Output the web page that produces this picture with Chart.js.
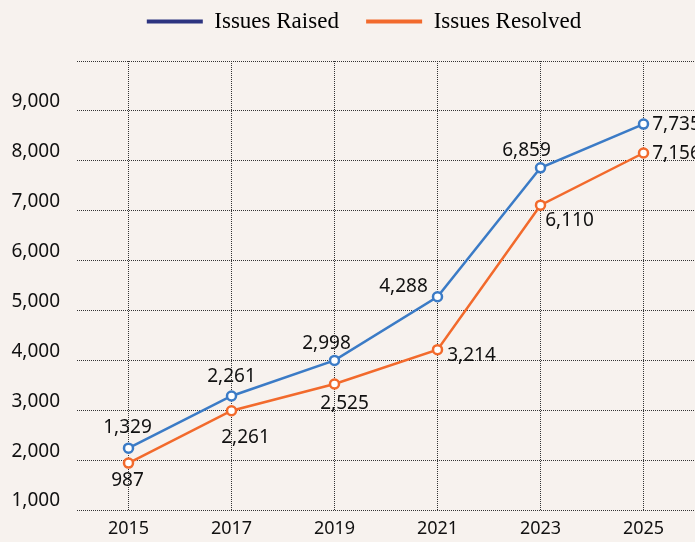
<!DOCTYPE html>
<html>
<head>
<meta charset="utf-8">
<script src="https://cdn.jsdelivr.net/npm/chart.js@4"></script>
<style>
  html, body { margin: 0; padding: 0; background: #f7f2ee; }
  #wrap { width: 695px; height: 542px; }
</style>
</head>
<body>
<div id="wrap"><canvas id="issuesChart" width="695" height="542"></canvas></div>
<script>
const years = ['2015', '2017', '2019', '2021', '2023', '2025'];
const raised = [1240, 2285, 2998, 4275, 6859, 7735];
const resolved = [940, 1990, 2525, 3214, 6110, 7156];
const raisedLabels = ['1,329', '2,261', '2,998', '4,288', '6,859', '7,735'];
const resolvedLabels = ['987', '2,261', '2,525', '3,214', '6,110', '7,156'];

// where each value label sits relative to its point
const raisedOffsets = [[-1, -21], [0, -19], [-8, -17], [-34, -10], [-14, -17], [33, 0]];
const resolvedOffsets = [[-1, 17], [14, 27], [10, 20], [34, 6], [29, 15], [33, 1]];

const blue = '#3b7bc6';
const orange = '#f26a2c';
const legendColors = ['#2d3480', '#f26a2c'];

const valueLabels = {
    id: 'valueLabels',
    afterDatasetsDraw(chart) {
        const ctx = chart.ctx;
        const texts = [raisedLabels, resolvedLabels];
        const offs = [raisedOffsets, resolvedOffsets];
        ctx.save();
        ctx.font = '19px "Noto Sans"';
        ctx.fillStyle = '#111111';
        ctx.textAlign = 'center';
        ctx.textBaseline = 'middle';
        chart.data.datasets.forEach((ds, i) => {
            chart.getDatasetMeta(i).data.forEach((pt, j) => {
                ctx.fillText(texts[i][j], pt.x + offs[i][j][0], pt.y + offs[i][j][1]);
            });
        });
        ctx.restore();
    }
};

// fixed legend band height, and legend centred a little right of the canvas middle
const legendBox = {
    id: 'legendBox',
    beforeInit(chart) {
        const fit = chart.legend.fit;
        chart.legend.fit = function () {
            fit.bind(chart.legend)();
            this.height = 61;
        };
    },
    afterLayout(chart) {
        chart.legend.left = 33;
    }
};

Chart.defaults.font.family = '"Noto Sans", sans-serif';
Chart.defaults.color = '#111111';

new Chart(document.getElementById('issuesChart'), {
    type: 'line',
    data: {
        labels: years,
        datasets: [{
            label: 'Issues Raised   ',
            data: raised,
            borderColor: blue,
            borderWidth: 2.5,
            pointRadius: 4.5,
            pointBorderWidth: 2.5,
            pointBackgroundColor: '#ffffff',
            pointBorderColor: blue,
            tension: 0
        }, {
            label: 'Issues Resolved',
            data: resolved,
            borderColor: orange,
            borderWidth: 2.5,
            pointRadius: 4.5,
            pointBorderWidth: 2.5,
            pointBackgroundColor: '#ffffff',
            pointBorderColor: orange,
            tension: 0
        }]
    },
    options: {
        responsive: false,
        animation: false,
        layout: { autoPadding: false, padding: 0 },
        plugins: {
            legend: {
                labels: {
                    boxWidth: 56,
                    boxHeight: 4,
                    padding: 10,
                    color: '#1a1a1a',
                    font: { family: '"Liberation Serif", serif', size: 23 },
                    generateLabels(chart) {
                        return chart.data.datasets.map((ds, i) => ({
                            text: ds.label,
                            fillStyle: legendColors[i],
                            strokeStyle: legendColors[i],
                            lineWidth: 0,
                            datasetIndex: i
                        }));
                    }
                }
            },
            tooltip: { enabled: false }
        },
        scales: {
            x: {
                offset: true,
                border: { display: false, dash: [1, 1] },
                grid: { color: '#333', drawTicks: false, offset: false },
                ticks: { font: { size: 18 }, padding: 8 },
                afterFit(axis) { axis.height = 32; }
            },
            y: {
                min: 0,
                max: 9000,
                border: { display: false, dash: [1, 1] },
                grid: { color: '#333', drawTicks: false },
                ticks: {
                    stepSize: 1000,
                    padding: 17,
                    labelOffset: -9,
                    font: { size: 19 },
                    callback: v => v >= 9000 ? '' : (v + 1000).toLocaleString('en-US')
                },
                afterFit(axis) { axis.width = 77; }
            }
        }
    },
    plugins: [valueLabels, legendBox]
});
</script>
</body>
</html>
